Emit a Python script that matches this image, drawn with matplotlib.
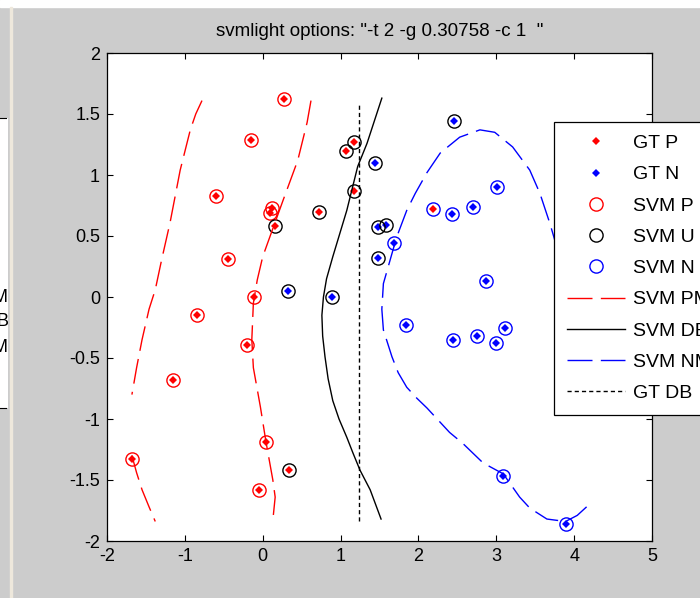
import matplotlib
matplotlib.use("Agg")
import matplotlib.pyplot as plt
from matplotlib.patches import Rectangle
from matplotlib.lines import Line2D

# svmlight decision plot (matlab screenshot look)
plt.rcParams['font.family'] = ['Liberation Sans', 'DejaVu Sans']
plt.rcParams['axes.unicode_minus'] = False

# GT P points, split by svm prediction
pos_svm_p_x = [0.27, -0.15, -0.60, 0.12, 0.10, -0.45, -0.11, -0.84, -0.20, -1.15, 0.04, -1.68, -0.05]
pos_svm_p_y = [1.62, 1.29, 0.83, 0.73, 0.69, 0.31, 0.00, -0.15, -0.39, -0.68, -1.19, -1.33, -1.58]
pos_svm_u_x = [0.16, 0.72, 1.07, 1.17, 1.17, 0.34]
pos_svm_u_y = [0.58, 0.70, 1.20, 1.27, 0.87, -1.42]
pos_svm_n_x = [2.19]
pos_svm_n_y = [0.72]

# GT N points
neg_svm_u_x = [0.32, 0.89, 2.46, 1.44, 1.48, 1.58, 1.48]
neg_svm_u_y = [0.05, 0.00, 1.44, 1.10, 0.57, 0.59, 0.32]
neg_svm_n_x = [1.69, 3.01, 2.70, 2.43, 2.87, 1.84, 2.44, 2.75, 3.00, 3.11, 3.09, 3.89]
neg_svm_n_y = [0.44, 0.90, 0.74, 0.68, 0.13, -0.23, -0.35, -0.32, -0.38, -0.25, -1.47, -1.86]

# margin / boundary contours
pm_left_x = [-0.78, -0.86, -0.93, -1.06, -1.19, -1.30, -1.38, -1.46, -1.55, -1.62, -1.68]
pm_left_y = [1.61, 1.50, 1.37, 1.04, 0.61, 0.30, 0.06, -0.10, -0.35, -0.58, -0.80]
pm_left2_x = [-1.68, -1.62, -1.55, -1.46, -1.38]
pm_left2_y = [-1.30, -1.44, -1.58, -1.72, -1.84]
pm_right_x = [0.62, 0.57, 0.45, 0.26, 0.09, 0.00, -0.07, -0.12, -0.14, -0.12, -0.03, 0.04, 0.13, 0.16, 0.13]
pm_right_y = [1.61, 1.43, 1.12, 0.79, 0.49, 0.33, 0.14, -0.05, -0.35, -0.58, -0.90, -1.18, -1.50, -1.64, -1.83]
db_x = [1.53, 1.34, 1.22, 1.08, 0.90, 0.82, 0.78, 0.76, 0.77, 0.80, 0.84, 0.90, 0.98, 1.08, 1.16, 1.25, 1.38, 1.45, 1.52]
db_y = [1.63, 1.26, 1.07, 0.71, 0.33, 0.15, 0.00, -0.15, -0.32, -0.49, -0.67, -0.85, -1.00, -1.15, -1.28, -1.42, -1.58, -1.70, -1.82]
nm_x = [4.16, 4.04, 3.89, 3.65, 3.43, 3.30, 3.09, 2.83, 2.57, 2.40, 2.11, 1.98, 1.85, 1.74, 1.66, 1.55,
        1.53, 1.55, 1.72, 1.85, 1.96, 2.11, 2.28, 2.53, 2.79, 2.98, 3.21, 3.43, 3.56, 3.69, 3.85, 3.95]
nm_y = [-1.72, -1.79, -1.84, -1.82, -1.73, -1.64, -1.45, -1.36, -1.20, -1.11, -0.91, -0.83, -0.74, -0.62, -0.49, -0.27,
        -0.10, 0.11, 0.49, 0.71, 0.85, 1.02, 1.18, 1.31, 1.37, 1.35, 1.23, 1.04, 0.85, 0.60, 0.25, -0.10]
gt_db_x = [1.24, 1.24]
gt_db_y = [-1.84, 1.58]

xticks = [-2, -1, 0, 1, 2, 3, 4, 5]
yticks = [-2, -1.5, -1, -0.5, 0, 0.5, 1, 1.5, 2]
ytick_labels = ['-2', '-1.5', '-1', '-0.5', '0', '0.5', '1', '1.5', '2']

gray = '#cccccc'
fig = plt.figure(figsize=(7, 5.98), dpi=100, facecolor=gray)
W, H = 700.0, 598.0

# bits of other windows around the screenshot
fig.patches.append(Rectangle((0, 1 - 7 / H), 1, 7 / H, transform=fig.transFigure, color='white', zorder=0))
fig.patches.append(Rectangle((10 / W, 0), 2 / W, 1 - 7 / H, transform=fig.transFigure, color='#eee8dc', zorder=0))
fig.patches.append(Rectangle((0, 1 - 408 / H), 8 / W, 290 / H, transform=fig.transFigure,
                             facecolor='white', edgecolor='none', zorder=0))
for yy in [118, 408]:
    fig.lines.append(Line2D([0, 6 / W], [1 - yy / H, 1 - yy / H], transform=fig.transFigure, color='black', lw=0.8))
for lab, yy in zip(['M', 'B', 'M'], [297, 322, 347]):
    fig.text(8 / W, 1 - yy / H, lab, ha='right', va='center', fontsize=13)

ax = fig.add_axes([107 / W, 1 - 541 / H, 545 / W, 488 / H])

gt_p_x = pos_svm_p_x + pos_svm_u_x + pos_svm_n_x
gt_p_y = pos_svm_p_y + pos_svm_u_y + pos_svm_n_y
gt_n_x = neg_svm_u_x + neg_svm_n_x
gt_n_y = neg_svm_u_y + neg_svm_n_y

ax.plot(gt_p_x, gt_p_y, 'D', color='red', ms=4.2, mew=0, label='GT P')
ax.plot(gt_n_x, gt_n_y, 'D', color='blue', ms=4.2, mew=0, label='GT N')
ax.plot(pos_svm_p_x, pos_svm_p_y, 'o', mfc='none', mec='red', ms=9.5, mew=1, label='SVM P')
ax.plot(pos_svm_u_x + neg_svm_u_x, pos_svm_u_y + neg_svm_u_y, 'o', mfc='none', mec='black', ms=9.5, mew=1,
        label='SVM U')
ax.plot(pos_svm_n_x + neg_svm_n_x, pos_svm_n_y + neg_svm_n_y, 'o', mfc='none', mec='blue', ms=9.5, mew=1,
        label='SVM N')

dash = (18, 6)
ax.plot(pm_left_x, pm_left_y, color='red', lw=1, dashes=dash, label='SVM PM')
ax.plot(pm_left2_x, pm_left2_y, color='red', lw=1, dashes=dash)
ax.plot(pm_right_x, pm_right_y, color='red', lw=1, dashes=dash)
ax.plot(db_x, db_y, color='black', lw=1, label='SVM DB')
ax.plot(nm_x, nm_y, color='blue', lw=1, dashes=dash, label='SVM NM')
ax.plot(gt_db_x, gt_db_y, color='black', lw=1, dashes=(3, 2.2), label='GT DB')

ax.set_xlim(-2, 5)
ax.set_ylim(-2, 2)
ax.set_xticks(xticks)
ax.set_yticks(yticks)
ax.set_yticklabels(ytick_labels)
ax.tick_params(direction='in', top=True, right=True, length=4, width=0.8, labelsize=13, pad=5)
for s in ax.spines.values():
    s.set_linewidth(0.9)

ax.set_title('svmlight options: "-t 2 -g 0.30758 -c 1  "', fontsize=13.5, pad=12)

# legend runs off the right edge like in the screenshot
leg = ax.legend(loc='upper left', bbox_to_anchor=(447 / 545, 419 / 488), borderaxespad=0, fontsize=14,
                frameon=True, fancybox=False, framealpha=1, edgecolor='black', handlelength=3.0,
                handletextpad=0.4, labelspacing=0.7, borderpad=0.65, numpoints=1)
leg.get_frame().set_linewidth(0.9)
leg.set_zorder(10)

fig.savefig('out.png', dpi=100, facecolor=gray)
